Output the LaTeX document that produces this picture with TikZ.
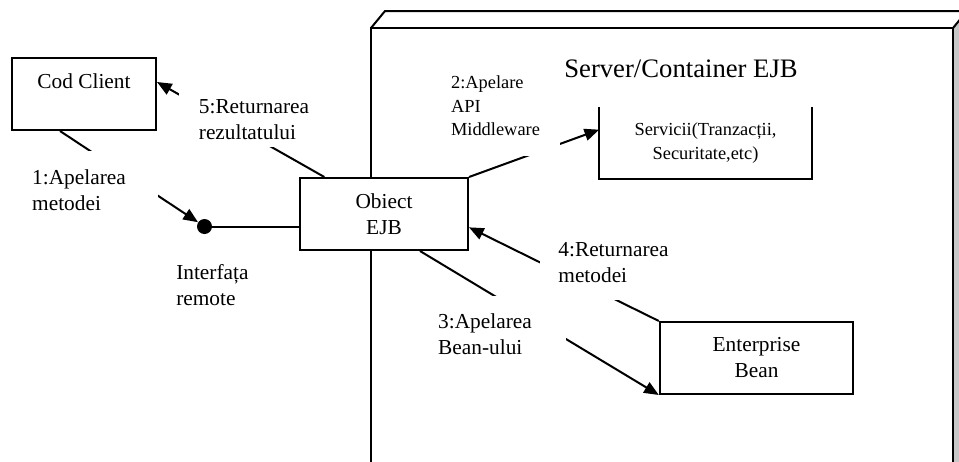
\documentclass[tikz,border=0pt]{standalone}
\usepackage{fontspec}
\setmainfont{Liberation Serif}
\usepackage{tikz}
\usetikzlibrary{arrows.meta}

\begin{document}
\begin{tikzpicture}[x=0.75pt,y=-0.75pt]
\tikzstyle{box} = [draw,line width=1.5,fill=white,align=center,font=\fontsize{16}{19.5}\selectfont,minimum height=54pt];
\tikzstyle{note} = [fill=white,align=left,font=\fontsize{16}{19.5}\selectfont];
\tikzstyle{smalltext} = [font=\fontsize{13.8}{17.6}\selectfont];
\tikzstyle{line} = [line width=1.5];
\tikzstyle{arr} = [line width=1.5,-{Triangle[length=11pt,width=9pt]}];
\useasboundingbox (0,0) rectangle (959,461);
\clip (0,0) rectangle (959,461);
% container drawn as a box seen from the front
\fill [black!22] (953,28) -- (967,11) -- (967,480) -- (953,480) -- cycle;
\draw [line] (371,480) -- (371,28) -- (953,28) -- (953,480);
\draw [line] (371,28) -- (385,11) -- (967,11);
\draw [line] (953,28) -- (967,11);
\node [font=\fontsize{20}{24}\selectfont] (t0) at (681,69) {Server/Container EJB};
\node [box,minimum width=108pt] (v1) at (84,94) {Cod Client\\\mbox{}};
\node [box,minimum width=126pt] (v2) at (384,214) {Obiect\\EJB};
\node [box,draw=none,fill=none,smalltext,minimum width=158pt,minimum height=52.5pt] (v3) at (705.5,143) {Servicii(Tranzacții,\\Securitate,etc)};
\node [box,minimum width=145pt] (v4) at (756.5,358) {Enterprise\\Bean};
\node [circle,fill=black,inner sep=0,minimum size=11.25pt] (v5) at (204.5,226.5) {};
\draw [line] (v3.north west) -- (v3.south west) -- (v3.south east) -- (v3.north east);
\draw [arr] ([xshift=-18pt]v1.south) -- (v5);
\draw [line] (v5) -- (v5 -| v2.west);
\draw [arr] ([xshift=19pt]v2.north west) -- ([yshift=9pt]v1.east);
\draw [arr] (v2.north east) -- ([yshift=10pt]v3.west);
\draw [arr] ([xshift=27pt]v2.south) -- (v4.south west);
\draw [arr] (v4.north west) -- ([yshift=-10pt]v2.east);
% labels sit on top of the lines
\node [note,inner xsep=24pt,inner ysep=14pt] (t1) at (79,190) {1:Apelarea\\metodei};
\node [note,smalltext,inner xsep=15pt,inner ysep=15pt] (t2) at (495.5,106) {2:Apelare\\API\\Middleware};
\node [note,inner xsep=25.5pt,inner ysep=13pt] (t3) at (485,334) {3:Apelarea\\Bean-ului};
\node [note,inner xsep=14pt,inner ysep=13pt] (t4) at (613.5,262.5) {4:Returnarea\\metodei};
\node [note,inner xsep=15pt,inner ysep=5pt] (t5) at (254,120) {5:Returnarea\\rezultatului};
\node [note,fill=none,inner sep=0,anchor=west] (t6) at (176,285.5) {Interfața\\remote};
\end{tikzpicture}
\end{document}
